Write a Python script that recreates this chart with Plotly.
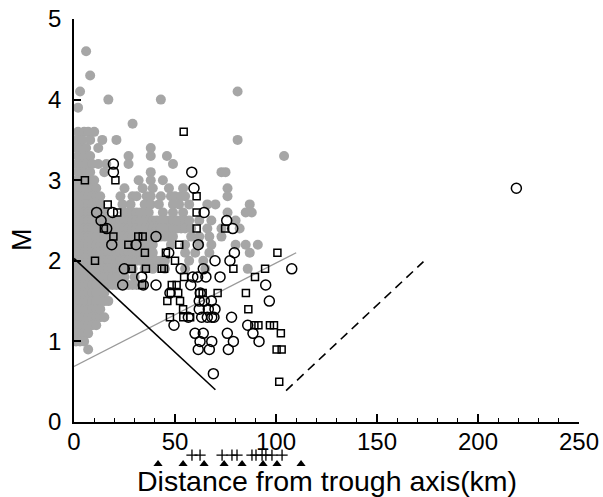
import plotly.graph_objects as go

# ---------------- data ----------------
# gray filled circles: magnitude levels and the distances (km) found on each level
gray_levels = [4.6, 4.3, 4.1, 4.0, 3.9, 3.7, 3.6, 3.5, 3.4, 3.3, 3.2, 3.1, 3.0,
               2.9, 2.8, 2.7, 2.6, 2.5, 2.4, 2.3, 2.2, 2.1, 2.0, 1.9, 1.8, 1.7,
               1.6, 1.5, 1.4, 1.3, 1.2, 1.1, 1.0, 0.9]
gray_rows = [
    [6],
    [8],
    [3, 81],
    [17, 43],
    [2],
    [29],
    [2, 5, 7, 10],
    [1, 4, 8, 14, 21, 81],
    [1, 3, 6, 12, 38],
    [2, 5, 8, 27, 38, 46, 104],
    [1, 3, 6, 9, 12, 16, 27, 49],
    [2, 5, 8, 15, 38, 73, 75],
    [1, 3, 7, 10, 32, 38, 44],
    [1, 3, 5, 7, 9, 11, 25, 34, 39, 47, 54, 76],
    [1, 3, 5, 7, 9, 11, 13, 23, 29, 31, 36, 38, 43, 48, 50, 53, 55, 76],
    [1, 3, 5, 7, 9, 11, 13, 24, 28, 35, 38, 42, 49, 52, 57, 66, 70, 87],
    [1, 3, 5, 7, 9, 11, 13, 15, 25, 27, 29, 31, 33, 35, 37, 44, 49, 54, 76, 85, 88],
    [1, 3, 5, 7, 9, 11, 13, 15, 17, 19, 21, 23, 25, 27, 29, 31, 33, 35, 37, 39,
     41, 43, 45, 47, 49, 51, 53, 55, 57, 62, 68, 80],
    [1, 3, 5, 7, 9, 11, 13, 15, 17, 19, 21, 23, 25, 27, 29, 31, 33, 35, 37, 39,
     41, 43, 45, 47, 49, 51, 53, 55, 58, 66, 73, 82],
    [1, 3, 5, 7, 9, 11, 13, 15, 17, 19, 21, 23, 25, 27, 29, 31, 33, 35, 37, 39,
     41, 43, 45, 47, 49, 58, 62, 67, 73],
    [1, 3, 5, 7, 9, 11, 13, 15, 17, 19, 21, 23, 25, 27, 29, 31, 33, 35, 37, 39,
     48, 55, 62, 68, 80, 85, 91],
    [1, 3, 5, 7, 9, 11, 13, 15, 17, 19, 21, 23, 25, 27, 29, 31, 33, 35, 37, 39,
     55, 60, 67, 87],
    [1, 3, 5, 7, 9, 11, 13, 15, 17, 19, 21, 23, 25, 27, 29, 31, 33, 35, 37, 39,
     41, 43, 45, 57, 64],
    [1, 3, 5, 7, 9, 11, 13, 15, 17, 19, 21, 23, 25, 27, 29, 35, 39, 45, 55, 65, 86],
    [1, 3, 5, 7, 9, 11, 13, 15, 17, 19, 21, 25, 30],
    [1, 3, 5, 7, 9, 11, 13, 15, 17, 19, 21, 23, 25, 27, 29, 31, 33],
    [1, 3, 5, 7, 9, 11, 13, 15],
    [1, 3, 5, 7, 9, 11, 13, 15, 17],
    [1, 3, 5, 7, 9, 11, 13],
    [1, 3, 5, 7, 9, 11, 13, 15],
    [1, 3, 5, 7, 9, 11],
    [1, 3, 5, 7],
    [1, 3, 5],
    [7],
]

circle_x = [19.5, 19.5, 58.3, 59.4, 11.2, 19.1, 64.4, 13.4, 16.2, 75.6, 78.6,
            18.7, 30.7, 40.6, 61.5, 46.9, 79.4, 69.8, 77.2, 24.9, 53.0, 64.0,
            107.8, 33.5, 58.8, 61.2, 65.3, 72.3, 24.1, 34.3, 40.6, 57.8, 94.9,
            47.5, 62.5, 62.0, 64.5, 68.0, 96.7, 62.0, 66.5, 69.8, 56.6, 63.2,
            66.0, 68.2, 69.3, 78.0, 49.5, 86.0, 88.6, 59.9, 64.0, 75.9, 91.6,
            62.4, 68.2, 78.9, 61.5, 67.0, 76.4, 69.0, 219.0]
circle_m = [3.2, 3.1, 3.1, 2.9, 2.6, 2.6, 2.6, 2.5, 2.4, 2.5, 2.4,
            2.2, 2.2, 2.3, 2.2, 2.1, 2.1, 2.0, 2.0, 1.9, 1.9, 1.9,
            1.9, 1.8, 1.8, 1.8, 1.8, 1.8, 1.7, 1.7, 1.7, 1.7, 1.7,
            1.6, 1.6, 1.5, 1.5, 1.5, 1.5, 1.4, 1.4, 1.4, 1.3, 1.3,
            1.3, 1.3, 1.3, 1.3, 1.2, 1.2, 1.1, 1.1, 1.1, 1.1, 1.0,
            1.0, 1.0, 1.0, 0.9, 0.9, 0.9, 0.6, 2.9]

square_x = [54.3, 5.4, 20.5, 60.7, 16.7, 21.4, 60.7, 14.8, 60.7, 74.8, 19.5,
            31.8, 34.0, 26.9, 52.1, 35.1, 45.5, 100.7, 50.0, 10.4, 28.5, 35.6,
            43.4, 44.6, 78.9, 94.6, 54.5, 89.6, 33.8, 48.4, 50.8, 47.9, 51.6,
            62.0, 63.7, 71.1, 85.1, 46.2, 52.5, 54.0, 86.3, 47.5, 54.1, 57.5,
            89.3, 91.3, 97.0, 99.0, 102.4, 100.3, 102.8, 101.6]
square_m = [3.6, 3.0, 3.0, 2.8, 2.7, 2.6, 2.6, 2.4, 2.4, 2.4, 2.3,
            2.3, 2.3, 2.2, 2.2, 2.1, 2.1, 2.1, 2.0, 2.0, 1.9, 1.9,
            1.9, 1.9, 1.9, 1.9, 1.8, 1.8, 1.7, 1.7, 1.7, 1.6, 1.6,
            1.6, 1.6, 1.6, 1.6, 1.5, 1.5, 1.4, 1.4, 1.3, 1.3, 1.3,
            1.2, 1.2, 1.2, 1.2, 1.1, 0.9, 0.9, 0.5]

# markers below the axis
plus_x = [58.4, 62.4, 73.3, 78.2, 80.7, 88.1, 90.1, 93.1, 95.0, 98.0, 103.0]
plus_m = [-0.41] * len(plus_x)
tri_x = [41.6, 54.0, 64.4, 74.3, 83.2, 93.6, 100.5, 112.4]
tri_m = [-0.52] * len(tri_x)

# lines
black_line_x = [0, 70]
black_line_m = [2.03, 0.40]
gray_line_x = [0, 110]
gray_line_m = [0.69, 2.10]
dash_line_x = [105, 173]
dash_line_m = [0.39, 1.99]

x_ticks = [0, 50, 100, 150, 200, 250]
y_ticks = [0, 1, 2, 3, 4, 5]

# ---------------- figure ----------------
W, H = 603, 497
M_T, M_B = 19, 20
plot_h = H - M_T - M_B               # height of the plotting region (px)
axis_px = 422                        # pixel row of the M = 0 axis
dom_split = (H - M_B - axis_px) / plot_h
px_per_m = (axis_px - M_T) / 5.0
strip_range = [-(H - M_B - axis_px) / px_per_m, 0]

gx, gm = [], []
for lvl, row in zip(gray_levels, gray_rows):
    for xv in row:
        gx.append(xv)
        gm.append(lvl)

fig = go.Figure()
fig.add_trace(go.Scatter(x=gx, y=gm, mode="markers",
                         marker=dict(symbol="circle", size=10, color="#a6a6a6",
                                     line=dict(width=0)),
                         showlegend=False))
fig.add_trace(go.Scatter(x=gray_line_x, y=gray_line_m, mode="lines",
                         line=dict(color="#9a9a9a", width=1.3), showlegend=False))
fig.add_trace(go.Scatter(x=black_line_x, y=black_line_m, mode="lines",
                         line=dict(color="black", width=1.6), showlegend=False))
fig.add_trace(go.Scatter(x=dash_line_x, y=dash_line_m, mode="lines",
                         line=dict(color="black", width=1.6, dash="9px,6px"),
                         showlegend=False))
fig.add_trace(go.Scatter(x=circle_x, y=circle_m, mode="markers",
                         marker=dict(symbol="circle-open", size=10, color="black",
                                     line=dict(width=1.5, color="black")),
                         showlegend=False))
fig.add_trace(go.Scatter(x=square_x, y=square_m, mode="markers",
                         marker=dict(symbol="square-open", size=7, color="black",
                                     line=dict(width=1.5, color="black")),
                         showlegend=False))
# strip under the x axis (same km scale)
fig.add_trace(go.Scatter(x=plus_x, y=plus_m, mode="markers", xaxis="x2", yaxis="y2",
                         marker=dict(symbol="cross-thin", size=8, color="black",
                                     line=dict(width=1.3, color="black")),
                         showlegend=False))
fig.add_trace(go.Scatter(x=tri_x, y=tri_m, mode="markers", xaxis="x2", yaxis="y2",
                         marker=dict(symbol="triangle-up", size=8, color="black",
                                     line=dict(width=0)),
                         showlegend=False))

fig.update_layout(
    width=W, height=H,
    margin=dict(l=74, r=24, t=M_T, b=M_B),
    paper_bgcolor="white", plot_bgcolor="rgba(0,0,0,0)",
    font=dict(family="Liberation Sans, Arial, sans-serif", color="black", size=24),
    showlegend=False,
    xaxis=dict(
        domain=[0, 1], anchor="y",
        range=[0, 250], tickvals=x_ticks, ticktext=[str(v) for v in x_ticks],
        showgrid=False, zeroline=False, showline=True, linecolor="black", linewidth=1.5,
        ticks="inside", ticklen=8, tickwidth=1.5, tickcolor="black",
        minor=dict(dtick=10, ticks="inside", ticklen=4, tickwidth=1.2, tickcolor="black"),
        tickfont=dict(size=24), ticklabelstandoff=-3, automargin=False,
    ),
    yaxis=dict(
        domain=[dom_split, 1], anchor="x",
        range=[0, 5], tickvals=y_ticks, ticktext=[str(v) for v in y_ticks],
        showgrid=False, zeroline=False, showline=True, linecolor="black", linewidth=1.5,
        ticks="inside", ticklen=7, tickwidth=1.5, tickcolor="black",
        tickfont=dict(size=24), ticklabelstandoff=6, automargin=False,
    ),
    xaxis2=dict(domain=[0, 1], anchor="y2", matches="x", visible=False),
    yaxis2=dict(domain=[0, dom_split], anchor="x2", range=strip_range, visible=False),
    annotations=[
        dict(text="Distance from trough axis(km)", xref="paper", yref="paper",
             x=0.5, y=(H - M_B - 481) / plot_h, xanchor="center", yanchor="middle",
             showarrow=False, font=dict(size=28.5)),
        dict(text="M", xref="paper", yref="paper",
             x=(22 - 74) / (W - 74 - 24), y=(H - M_B - 240) / plot_h,
             xanchor="center", yanchor="middle", textangle=-90,
             showarrow=False, font=dict(size=27)),
    ],
)

fig.write_html("out.html")
